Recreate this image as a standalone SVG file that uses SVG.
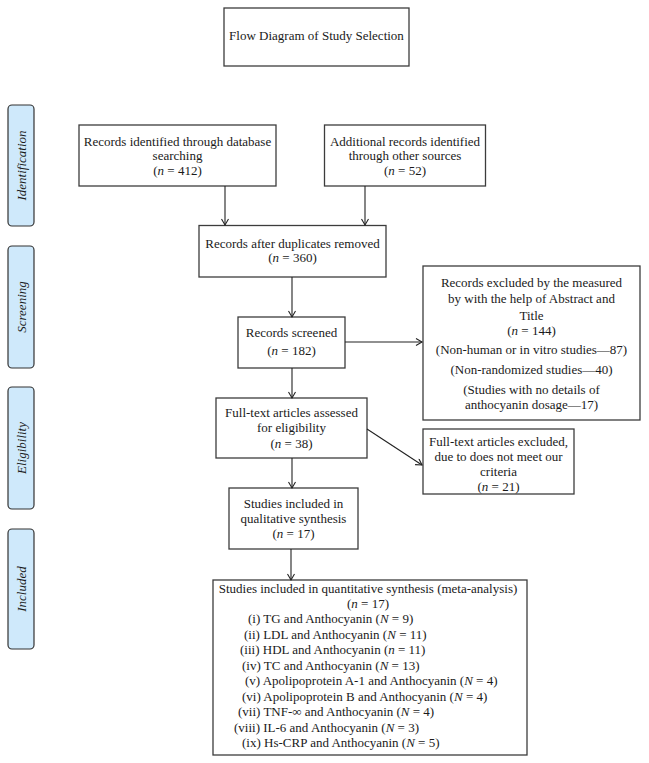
<svg xmlns="http://www.w3.org/2000/svg" width="649" height="763" viewBox="0 0 649 763">
<style>
text{font-family:"Liberation Serif","Times New Roman",serif;font-size:13px;fill:#1a1a1a}
.c{text-anchor:middle}
.box{fill:#fff;stroke:#3c3c3c;stroke-width:1.3}
.side{fill:#cfe9fb;stroke:#333;stroke-width:1.2}
.lab{font-style:italic;text-anchor:middle}
.i{font-style:italic}
.con{stroke:#222;stroke-width:1.1;fill:none;marker-end:url(#ah)}
</style>
<defs>
<marker id="ah" markerWidth="10" markerHeight="10" refX="7" refY="4" orient="auto" markerUnits="userSpaceOnUse">
<path d="M1,0.5 L7,4 L1,7.5" fill="none" stroke="#222" stroke-width="1.1"/>
</marker>
</defs>
<rect width="649" height="763" fill="#fff"/>

<g id="title">
<rect class="box" x="224" y="8" width="185" height="58"/>
<text class="c" x="316.5" y="40">Flow Diagram of Study Selection</text>
</g>

<g id="side-identification">
<rect class="side" x="8" y="105" width="26" height="121" rx="4"/>
<text class="lab" transform="translate(26,165.5) rotate(-90)">Identification</text>
</g>
<g id="side-screening">
<rect class="side" x="8" y="246" width="26" height="122" rx="4"/>
<text class="lab" transform="translate(26,307) rotate(-90)">Screening</text>
</g>
<g id="side-eligibility">
<rect class="side" x="8" y="387" width="26" height="122" rx="4"/>
<text class="lab" transform="translate(26,448) rotate(-90)">Eligibility</text>
</g>
<g id="side-included">
<rect class="side" x="8" y="529" width="26" height="120" rx="4"/>
<text class="lab" transform="translate(26,589) rotate(-90)">Included</text>
</g>

<g id="n-database">
<rect class="box" x="79" y="125" width="197" height="61"/>
<text class="c" x="177.5" y="146">Records identified through database</text>
<text class="c" x="177.5" y="160">searching</text>
<text class="c" x="177.5" y="175">(<tspan class="i">n</tspan> = 412)</text>
</g>
<g id="n-other">
<rect class="box" x="324.5" y="125" width="161" height="61"/>
<text class="c" x="405" y="146">Additional records identified</text>
<text class="c" x="405" y="160">through other sources</text>
<text class="c" x="405" y="175">(<tspan class="i">n</tspan> = 52)</text>
</g>
<g id="n-duplicates">
<rect class="box" x="199" y="225.5" width="187" height="51.5"/>
<text class="c" x="292.5" y="248">Records after duplicates removed</text>
<text class="c" x="292.5" y="262">(<tspan class="i">n</tspan> = 360)</text>
</g>
<g id="n-screened">
<rect class="box" x="238" y="317" width="107" height="51"/>
<text class="c" x="291.5" y="337">Records screened</text>
<text class="c" x="291.5" y="355">(<tspan class="i">n</tspan> = 182)</text>
</g>
<g id="n-excluded">
<rect class="box" x="423" y="266" width="217" height="154"/>
<text class="c" x="531.5" y="287">Records excluded by the measured</text>
<text class="c" x="531.5" y="303">by with the help of Abstract and</text>
<text class="c" x="531.5" y="320">Title</text>
<text class="c" x="531.5" y="335">(<tspan class="i">n</tspan> = 144)</text>
<text class="c" x="531.5" y="354">(Non-human or in vitro studies—87)</text>
<text class="c" x="531.5" y="374">(Non-randomized studies—40)</text>
<text class="c" x="531.5" y="394">(Studies with no details of</text>
<text class="c" x="531.5" y="409">anthocyanin dosage—17)</text>
</g>
<g id="n-fulltext">
<rect class="box" x="216" y="398" width="151" height="60"/>
<text class="c" x="291.5" y="417">Full-text articles assessed</text>
<text class="c" x="291.5" y="432">for eligibility</text>
<text class="c" x="291.5" y="448">(<tspan class="i">n</tspan> = 38)</text>
</g>
<g id="n-fulltext-excluded">
<rect class="box" x="423" y="429" width="151" height="65"/>
<text class="c" x="498.5" y="446">Full-text articles excluded,</text>
<text class="c" x="498.5" y="461">due to does not meet our</text>
<text class="c" x="498.5" y="476">criteria</text>
<text class="c" x="498.5" y="491">(<tspan class="i">n</tspan> = 21)</text>
</g>
<g id="n-qualitative">
<rect class="box" x="229" y="488" width="129" height="61"/>
<text class="c" x="293.5" y="508">Studies included in</text>
<text class="c" x="293.5" y="523">qualitative synthesis</text>
<text class="c" x="293.5" y="538">(<tspan class="i">n</tspan> = 17)</text>
</g>
<g id="n-quantitative">
<rect class="box" x="213" y="580" width="314" height="175"/>
<text class="c" x="368" y="593">Studies included in quantitative synthesis (meta-analysis)</text>
<text class="c" x="368" y="608">(<tspan class="i">n</tspan> = 17)</text>
<text x="248" y="623">(i) TG and Anthocyanin (<tspan class="i">N</tspan> = 9)</text>
<text x="244" y="638.5">(ii) LDL and Anthocyanin (<tspan class="i">N</tspan> = 11)</text>
<text x="240" y="654">(iii) HDL and Anthocyanin (<tspan class="i">n</tspan> = 11)</text>
<text x="242" y="669.5">(iv) TC and Anthocyanin (<tspan class="i">N</tspan> = 13)</text>
<text x="245" y="685">(v) Apolipoprotein A-1 and Anthocyanin (<tspan class="i">N</tspan> = 4)</text>
<text x="242" y="700.5">(vi) Apolipoprotein B and Anthocyanin (<tspan class="i">N</tspan> = 4)</text>
<text x="238" y="716">(vii) TNF-∞ and Anthocyanin (<tspan class="i">N</tspan> = 4)</text>
<text x="234" y="731.5">(viii) IL-6 and Anthocyanin (<tspan class="i">N</tspan> = 3)</text>
<text x="242" y="747">(ix) Hs-CRP and Anthocyanin (<tspan class="i">N</tspan> = 5)</text>
</g>

<g id="connectors">
<line class="con" x1="225" y1="186" x2="225" y2="225"/>
<line class="con" x1="365" y1="186" x2="365" y2="225"/>
<line class="con" x1="292" y1="277" x2="292" y2="317"/>
<line class="con" x1="345" y1="342" x2="422" y2="342"/>
<line class="con" x1="292" y1="368" x2="292" y2="398"/>
<line class="con" x1="367" y1="429" x2="422" y2="465"/>
<line class="con" x1="292" y1="458" x2="292" y2="488"/>
<line class="con" x1="291" y1="549" x2="291" y2="580"/>
</g>
</svg>
